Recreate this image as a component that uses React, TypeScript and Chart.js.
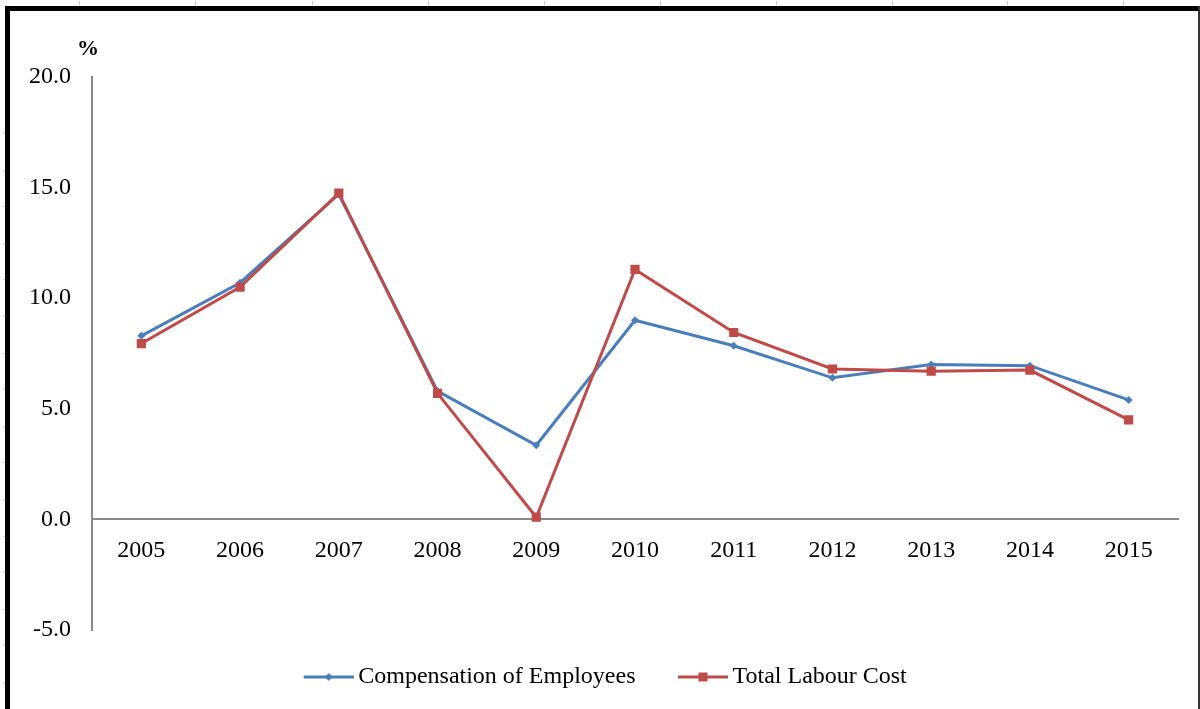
import React, { useEffect, useRef } from "react";
import { Chart, registerables } from "chart.js";

Chart.register(...registerables);

const years = ["2005", "2006", "2007", "2008", "2009", "2010", "2011", "2012", "2013", "2014", "2015"];
const compensationOfEmployees = [8.3, 10.7, 14.7, 5.8, 3.35, 9.0, 7.85, 6.4, 7.0, 6.95, 5.4];
const totalLabourCost = [7.95, 10.5, 14.75, 5.7, 0.1, 11.3, 8.45, 6.8, 6.7, 6.75, 4.5];
const seriesNames = ["Compensation of Employees", "Total Labour Cost"];
const yTicks = { min: -5, max: 20, step: 5 };

const BLUE = "#4A7EBB";
const RED = "#BE4B48";
const FONT = "'Liberation Serif', 'Times New Roman', serif";

function makeLegendImage(color: string, style: "diamond" | "square") {
  const c = document.createElement("canvas");
  c.width = 90;
  c.height = 24;
  const ctx = c.getContext("2d")!;
  ctx.strokeStyle = color;
  ctx.fillStyle = color;
  ctx.lineWidth = 3;
  ctx.beginPath();
  ctx.moveTo(40, 12);
  ctx.lineTo(90, 12);
  ctx.stroke();
  if (style === "square") {
    ctx.fillRect(65 - 4.5, 12 - 4.5, 9, 9);
  } else {
    ctx.beginPath();
    ctx.moveTo(65, 12 - 4);
    ctx.lineTo(65 + 4, 12);
    ctx.lineTo(65, 12 + 4);
    ctx.lineTo(65 - 4, 12);
    ctx.closePath();
    ctx.fill();
  }
  return c;
}

export default function App() {
  const ref = useRef<HTMLCanvasElement | null>(null);

  useEffect(() => {
    if (!ref.current) return;
    const imgs = [makeLegendImage(BLUE, "diamond"), makeLegendImage(RED, "square")];

    const percentPlugin = {
      id: "percentLabel",
      afterDraw(chart: any) {
        const { ctx, chartArea } = chart;
        ctx.save();
        ctx.font = `bold 22px ${FONT}`;
        ctx.fillStyle = "#000";
        ctx.textAlign = "center";
        ctx.textBaseline = "middle";
        ctx.fillText("%", chartArea.left - 4, chartArea.top - 28);
        ctx.restore();
      },
    };

    const chart = new Chart(ref.current, {
      type: "line",
      data: {
        labels: years,
        datasets: [
          {
            label: seriesNames[0],
            data: compensationOfEmployees,
            borderColor: BLUE,
            backgroundColor: BLUE,
            borderWidth: 3,
            pointStyle: "rectRot",
            pointRadius: 4,
            pointHoverRadius: 4,
            pointBorderWidth: 0,
            tension: 0,
            order: 2,
          },
          {
            label: seriesNames[1],
            data: totalLabourCost,
            borderColor: RED,
            backgroundColor: RED,
            borderWidth: 3,
            pointStyle: "rect",
            pointRadius: 6.5,
            pointHoverRadius: 6.5,
            pointBorderWidth: 0,
            tension: 0,
            order: 1,
          },
        ],
      },
      options: {
        responsive: false,
        animation: false,
        layout: { padding: { top: 77, right: 22, bottom: 10, left: 0 } },
        scales: {
          x: {
            position: { y: 0 } as any,
            offset: true,
            grid: { display: false, drawTicks: false },
            border: { display: true, color: "#888888", width: 2 },
            ticks: {
              color: "#000",
              font: { family: FONT, size: 24 },
              padding: 17,
              maxRotation: 0,
              autoSkip: false,
            },
          },
          y: {
            min: yTicks.min,
            max: yTicks.max,
            grid: { display: false, drawTicks: false },
            border: { display: true, color: "#888888", width: 2 },
            ticks: {
              stepSize: yTicks.step,
              color: "#000",
              font: { family: FONT, size: 24 },
              padding: 21,
              callback: (v: any) => Number(v).toFixed(1),
            },
            afterFit: (scale: any) => {
              scale.width = 92;
            },
          },
        },
        plugins: {
          tooltip: { enabled: false },
          legend: {
            position: "bottom",
            align: "center",
            title: { display: true, text: "", font: { size: 10, lineHeight: 1 }, padding: { top: 0, bottom: 15 } },
            labels: {
              usePointStyle: true,
              pointStyleWidth: 75,
              padding: 10,
              color: "#000",
              font: { family: FONT, size: 24 },
              generateLabels: (ch: any) =>
                ch.data.datasets.map((ds: any, i: number) => ({
                  text: ds.label,
                  pointStyle: imgs[i],
                  fillStyle: ds.borderColor,
                  strokeStyle: ds.borderColor,
                  lineWidth: 0,
                  hidden: false,
                  datasetIndex: i,
                  fontColor: "#000",
                })),
            },
          },
        },
      },
      plugins: [percentPlugin],
    });
    return () => chart.destroy();
  }, []);

  const topTicks = [79, 195, 312, 428, 544, 660, 776, 892, 1007, 1123];
  const leftTicks: number[] = [];
  for (let y = 133; y < 700; y += 36.6) leftTicks.push(Math.round(y));

  return (
    <div
      style={{
        position: "absolute",
        left: 0,
        top: 0,
        width: 1200,
        height: 709,
        overflow: "hidden",
        background: "#fff",
      }}
    >
      <canvas ref={ref} width={1200} height={709} style={{ position: "absolute", left: 0, top: 0 }} />
      <div style={{ position: "absolute", left: 5, top: 6, width: 1195, height: 5, background: "#000" }} />
      <div style={{ position: "absolute", left: 5, top: 6, width: 5, height: 703, background: "#000" }} />
      <div style={{ position: "absolute", left: 1198, top: 6, width: 2, height: 703, background: "#333" }} />
      {topTicks.map((x) => (
        <div key={"t" + x} style={{ position: "absolute", left: x, top: 1, width: 1, height: 4, background: "#ccc" }} />
      ))}
      {leftTicks.map((y) => (
        <div key={"l" + y} style={{ position: "absolute", left: 3, top: y, width: 2, height: 1, background: "#ccc" }} />
      ))}
    </div>
  );
}
